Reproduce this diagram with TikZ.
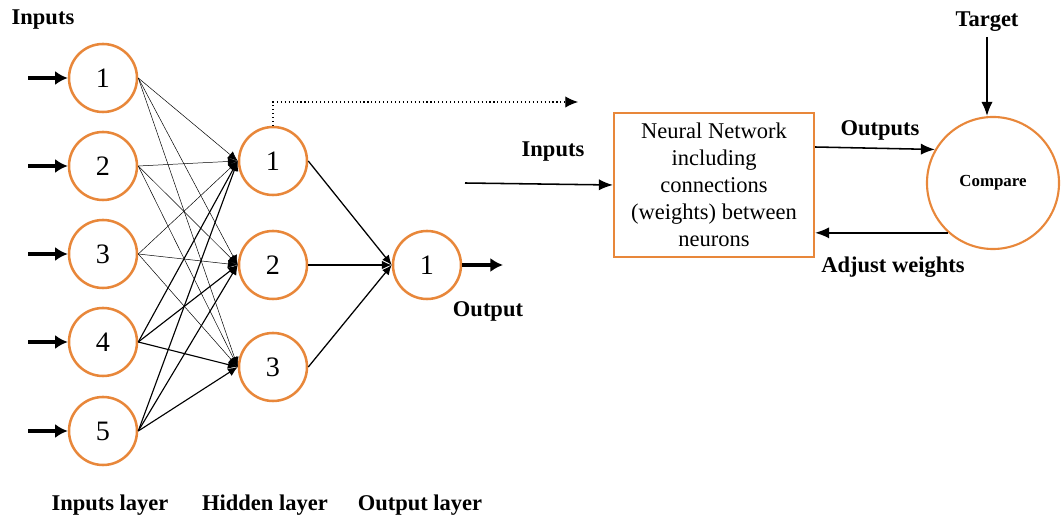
\documentclass[tikz,border=0pt]{standalone}
\usepackage{fontspec}
\setmainfont{Liberation Serif}
\usepackage{tikz}
\usetikzlibrary{arrows.meta}
\definecolor{nnorange}{RGB}{232,135,58}
\tikzset{
	neuron/.style={circle, draw=nnorange, line width=1.8pt, minimum size=1.7cm, inner sep=0pt, font=\fontsize{20}{20}\selectfont},
	lbl/.style={font=\bfseries\fontsize{16}{19}\selectfont},
	feed/.style={line width=2.6pt, -{Latex[length=9pt,width=10pt]}},
	link/.style={-{Latex[length=7pt,width=6pt]}},
	flow/.style={line width=1.1pt, -{Latex[length=10pt,width=8pt]}}
}
\begin{document}
\begin{tikzpicture}[x=0.025cm, y=-0.025cm]
		\useasboundingbox (0,0) rectangle (1061,517);
		% input layer
		\foreach \i/\y in {1/78, 2/166, 3/254, 4/342, 5/431}{
			\node[neuron](i\i)at(103,\y){\i};
			\coordinate(s\i)at(28,\y);
			\draw[feed](s\i)--(i\i.west);
		}
		% hidden layer
		\node[neuron](h1)at(273,161){1};
		\node[neuron](h2)at(273,265){2};
		\node[neuron](h3)at(273,367){3};
		% output layer
		\node[neuron](o1)at(427,265){1};
		\coordinate(oe)at(503,265);
		\draw[feed](o1.east)--(oe);
		% weights
		\foreach \i in {1,2,3}
			\foreach \j in {1,2,3}
				\draw[link, line width=0.35pt](i\i.east)--(h\j.west);
		\foreach \i in {4,5}
			\foreach \j in {1,2,3}
				\draw[link, line width=0.8pt](i\i.east)--(h\j.west);
		\foreach \j in {1,2,3}
			\draw[link, line width=0.9pt](h\j.east)--(o1.west);
		% labels
		\node[lbl](tin)at(43,20){Inputs};
		\node[lbl](tout)at(488,311){Output};
		\node[lbl](li)at(110,505){Inputs layer};
		\node[lbl](lh)at(265,505){Hidden layer};
		\node[lbl](lo)at(420,505){Output layer};
		% training loop
		\coordinate(dot)at(578,102);
		\draw[dotted, line width=0.8pt, -{Latex[length=9pt,width=8pt]}](h1.north)|-(dot);
		\node[draw=nnorange, line width=1.5pt, minimum width=5cm, minimum height=3.62cm, align=center, font=\fontsize{16}{19.2}\selectfont](nn)at(714,185){Neural Network\\including\\connections\\(weights) between\\neurons};
		\node[circle, draw=nnorange, line width=1.5pt, minimum size=3.3cm, font=\bfseries\fontsize{12}{14}\selectfont](cmp)at(993,183){Compare};
		\coordinate(ns)at(465,183);
		\draw[flow](ns)--(nn.west);
		\node[lbl](tns)at(553,152){Inputs};
		\draw[flow](nn.east|-0,147)--(cmp.150);
		\node[lbl](touts)at(880,130){Outputs};
		\draw[flow](cmp.228)--(nn.east|-cmp.228);
		\node[lbl](tadj)at(893,267){Adjust weights};
		\node[lbl](tgt)at(987,22){Target};
		\draw[flow](tgt.south)--(tgt.south|-cmp.north);
	\end{tikzpicture}
\end{document}
